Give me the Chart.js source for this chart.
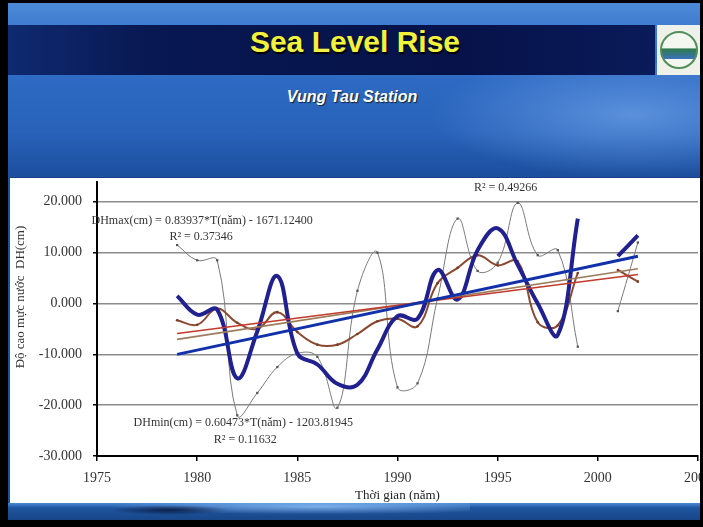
<!DOCTYPE html>
<html lang="vi">
<head>
<meta charset="utf-8">
<title>Sea Level Rise – Vung Tau Station</title>
<script src="https://cdn.jsdelivr.net/npm/chart.js@4.4.1/dist/chart.umd.min.js"></script>
<style>
  html, body { margin:0; padding:0; width:703px; height:527px; overflow:hidden; background:#000; }
  .slide { position:absolute; left:8px; top:3px; width:692px; height:517px; overflow:hidden;
    background: linear-gradient(180deg, #4d8ad8 0px, #3e7cd0 22px, #2d69c2 80px, #2862b9 130px, #1c4f9e 172px); }
  .glow { position:absolute; left:420px; top:60px; width:272px; height:115px;
    background: radial-gradient(ellipse at 75% 45%, rgba(130,180,245,0.55), rgba(130,180,245,0) 70%); }
  .band { position:absolute; left:0; top:22px; width:647px; height:50px;
    background: linear-gradient(90deg, #0f2a70 0%, #081852 22%, #061249 70%, #0a1b5a 100%); }
  .logo { position:absolute; left:649px; top:22px; width:43px; height:50px; background:#eef1ea; }
  .logo .ring { position:absolute; left:3px; top:6px; width:34px; height:34px; border-radius:50%;
    border:2px solid #4f8f5a; background: linear-gradient(180deg, #f4f6f0 0%, #f4f6f0 45%, #2e7a4a 46%, #3a72b8 75%, #f4f6f0 76%); }
  h1 { position:absolute; left:0; top:22px; width:694px; height:50px; margin:0; line-height:50px; text-align:center;
    font: bold 30px "Liberation Sans", Arial, sans-serif; color:#f2f23c; text-shadow: 1px 2px 1px #000; }
  .sub { position:absolute; left:0; top:85px; width:688px; text-align:center;
    font: italic bold 16px "Liberation Sans", Arial, sans-serif; color:#ffffff; text-shadow: 1px 1px 1px #123; }
  .panel { position:absolute; left:10px; top:177px; width:690px; height:326px; background:#fff; border-top:1px solid #1a3f88; box-sizing:border-box; }
  #chart { position:absolute; left:10px; top:178px; }
  .foot { position:absolute; left:8px; top:503px; width:692px; height:17px;
    background: linear-gradient(180deg, #4a88d6 0px, #1f559f 5px, #184688 17px); }
  .swoosh { position:absolute; left:90px; top:503px; width:380px; height:12px;
    background: radial-gradient(ellipse at 60% 30%, rgba(150,200,255,0.75), rgba(150,200,255,0) 65%); }
  .dark { position:absolute; left:110px; top:505px; width:120px; height:10px;
    background: radial-gradient(ellipse at 50% 50%, rgba(5,15,50,0.8), rgba(5,15,50,0) 70%); }
  .frameR { position:absolute; left:700px; top:0; width:3px; height:527px; background:#000; }
</style>
</head>
<body>
<div class="slide">
  <div class="glow"></div>
  <div class="band"></div>
  <div class="logo"><div class="ring"></div></div>
  <h1>Sea Level Rise</h1>
  <div class="sub">Vung Tau Station</div>
</div>
<div class="panel"></div>
<canvas id="chart" width="720" height="325"></canvas>
<div class="foot"></div>
<div class="swoosh"></div>
<div class="dark"></div>
<div class="frameR"></div>

<script>
// Annual water-level anomalies at Vung Tau (cm); 2000 has no record.
const years = [1979, 1980, 1981, 1982, 1983, 1984, 1985, 1986, 1987, 1988, 1989, 1990,
               1991, 1992, 1993, 1994, 1995, 1996, 1997, 1998, 1999, 2000, 2001, 2002];
const dhBlue  = [1.5, -2.2, -1.2, -14.7, -5.5, 5.4, -9.8, -12.0, -15.8, -16.0, -9.0, -2.5,
                 -3.0, 6.6, 0.8, 10.5, 14.8, 7.6, 0.0, -6.2, 16.7, null, 9.3, 13.4];
const dhGray  = [11.5, 8.5, 8.5, -22.0, -17.6, -12.5, -9.8, -10.5, -20.5, 2.5, 10.0, -16.5,
                 -15.7, 1.0, 16.7, 6.4, 8.0, 19.8, 9.5, 10.5, -8.5, null, -1.5, 12.0];
const dhBrown = [-3.3, -4.2, -1.0, -3.8, -5.0, -1.7, -5.6, -8.1, -8.1, -6.0, -3.5, -3.0,
                 -4.5, 4.0, 7.0, 9.5, 7.5, 8.3, -3.7, -4.3, 6.0, null, 6.6, 4.3];

// Linear fits shown on the chart
const fitMax = { slope: 0.83937, intercept: -1671.12400, r2: 0.37346 };
const fitMin = { slope: 0.60473, intercept: -1203.81945, r2: 0.11632 };
const fitMeanEnds = [-5.9, 5.7];   // brown trend at first / last year
const fitMeanR2 = 0.49266;

// Axis ticks
const xTicks = [1975, 1980, 1985, 1990, 1995, 2000, 2005];
const yTicks = [-30, -20, -10, 0, 10, 20];
const yTickLabels = ['-30.000', '-20.000', '-10.000', '0.000', '10.000', '20.000'];

const yTitle = 'Độ cao mực nước  DH(cm)';
const xTitle = 'Thời gian (năm)';

const pts = vals => years.map((yr, i) => ({ x: yr, y: vals[i] }));
const firstYear = years[0], lastYear = years[years.length - 1];
const fitLine = f => [firstYear, lastYear].map(yr => ({ x: yr, y: f.slope * yr + f.intercept }));
const endsLine = e => [{ x: firstYear, y: e[0] }, { x: lastYear, y: e[1] }];

const eq = (name, f) => name + '(cm) = ' + f.slope.toFixed(5) + '*T(năm) - ' + Math.abs(f.intercept).toFixed(5);
const r2 = v => 'R² = ' + v.toFixed(5);

// text notes placed in data coordinates
const notes = [
  { text: eq('DHmax', fitMax), x: 1980.25, y: 16.3 },
  { text: r2(fitMax.r2),       x: 1980.2,  y: 13.2 },
  { text: r2(fitMeanR2),       x: 1995.4,  y: 22.7 },
  { text: eq('DHmin', fitMin), x: 1982.3,  y: -23.4 },
  { text: r2(fitMin.r2),       x: 1982.4,  y: -26.9 }
];

const serif = '"Liberation Serif", "Times New Roman", serif';

const notePlugin = {
  id: 'notes',
  afterDatasetsDraw(chart) {
    const { ctx, scales: { x, y } } = chart;
    ctx.save();
    ctx.font = '12px ' + serif;
    ctx.fillStyle = '#333';
    ctx.textAlign = 'center';
    ctx.textBaseline = 'middle';
    notes.forEach(n => ctx.fillText(n.text, x.getPixelForValue(n.x), y.getPixelForValue(n.y)));
    // vertical axis title
    ctx.font = '13px ' + serif;
    ctx.translate(11, 119);
    ctx.rotate(-Math.PI / 2);
    ctx.fillText(yTitle, 0, 0);
    ctx.restore();
  }
};

new Chart(document.getElementById('chart'), {
  type: 'line',
  data: {
    datasets: [
      { label: 'DHmax trend', data: fitLine(fitMax), borderColor: '#1230aa', borderWidth: 3,
        pointRadius: 0, tension: 0, order: 1 },
      { label: 'DHtb trend', data: endsLine(fitMeanEnds), borderColor: '#c23a2a', borderWidth: 1.6,
        pointRadius: 0, tension: 0, order: 2 },
      { label: 'DHmin trend', data: fitLine(fitMin), borderColor: '#9c7a5c', borderWidth: 1.6,
        pointRadius: 0, tension: 0, order: 3 },
      { label: 'DHmax', data: pts(dhBlue), borderColor: '#20208f', borderWidth: 4,
        pointRadius: 0, tension: 0.4, spanGaps: false, order: 4 },
      { label: 'DHtb', data: pts(dhBrown), borderColor: '#8a4a32', borderWidth: 2,
        pointRadius: 1.3, pointBackgroundColor: '#7a3a28', pointBorderWidth: 0,
        tension: 0.4, spanGaps: false, order: 5 },
      { label: 'DHmin', data: pts(dhGray), borderColor: '#7a7a7a', borderWidth: 1,
        pointRadius: 1.6, pointStyle: 'rect', pointBackgroundColor: '#555', pointBorderWidth: 0,
        tension: 0.4, spanGaps: false, order: 6 }
    ]
  },
  options: {
    responsive: false,
    animation: false,
    devicePixelRatio: 1,
    layout: { padding: { left: 0, right: 32, top: 0, bottom: 0 } },
    plugins: { legend: { display: false }, tooltip: { enabled: false } },
    scales: {
      x: {
        type: 'linear', min: 1975, max: 2005,
        afterBuildTicks: s => { s.ticks = xTicks.map(v => ({ value: v })); },
        afterFit: s => { s.height = 47; s.paddingLeft = 0; s.paddingRight = 0; },
        ticks: { callback: v => String(v), font: { family: serif, size: 14 }, color: '#333',
                 padding: 9, maxRotation: 0, autoSkip: false },
        grid: { drawOnChartArea: false, color: '#000', lineWidth: 1.5, tickLength: 5 },
        border: { color: '#000', width: 2 },
        title: { display: true, text: xTitle, font: { family: serif, size: 13 }, color: '#222',
                 padding: { top: 0, bottom: 0 } }
      },
      y: {
        type: 'linear', min: -30, max: 23.9,
        afterBuildTicks: s => { s.ticks = yTicks.map(v => ({ value: v })); },
        afterFit: s => { s.width = 87; s.paddingTop = 0; s.paddingBottom = 0; },
        ticks: { callback: v => yTickLabels[yTicks.indexOf(v)], font: { family: serif, size: 14 },
                 color: '#333', padding: 11 },
        grid: { color: '#8c8c8c', lineWidth: 1.5, tickLength: 4, tickColor: '#000' },
        border: { color: '#000', width: 2 }
      }
    }
  },
  plugins: [notePlugin]
});
</script>
</body>
</html>
